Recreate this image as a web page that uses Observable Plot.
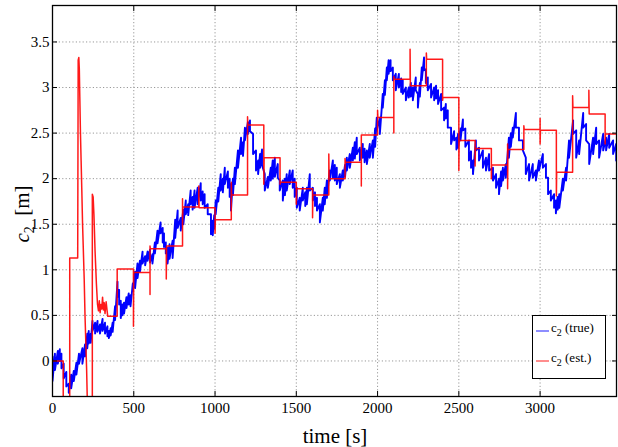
<!DOCTYPE html>
<html>
<head>
<meta charset="utf-8">
<script src="https://cdn.jsdelivr.net/npm/d3@7"></script>
<script src="https://cdn.jsdelivr.net/npm/@observablehq/plot@0.6"></script>
<style>
  html, body { margin: 0; padding: 0; background: #fff; }
  #chart { width: 618px; height: 447px; }
  #chart svg text { font-family: 'Liberation Serif', 'Times New Roman', serif; fill: #000; }
</style>
</head>
<body>
<div id="chart"></div>
<script>
// ---- tick labels ----
const xTicks = [0, 500, 1000, 1500, 2000, 2500, 3000];
const yTicks = [0, 0.5, 1, 1.5, 2, 2.5, 3, 3.5];

// ---- c2 (true): sampled time, upper and lower edge of the noisy trace ----
const blueT = [0,15,33,45,55,69,85,100,115,131,147,163,184,200,214,223,235,246,262,277,292,308,323,338,347,358,370,385,400,410,420,430,440,455,469,480,494,508,523,538,554,570,585,600,615,630,646,665,678,686,697,708,720,739,755,770,789,805,820,835,850,862,874,893,912,924,936,955,975,986,995,1004,1020,1035,1048,1060,1079,1090,1098,1110,1122,1141,1160,1172,1184,1202,1215,1234,1252,1265,1277,1289,1306,1325,1343,1355,1368,1386,1398,1417,1430,1441,1460,1478,1490,1503,1521,1540,1555,1565,1583,1602,1615,1627,1645,1663,1675,1688,1706,1725,1737,1749,1768,1786,1800,1811,1829,1848,1860,1872,1891,1909,1920,1934,1952,1971,1985,1995,2014,2032,2045,2057,2068,2080,2094,2112,2131,2145,2155,2174,2192,2205,2217,2235,2248,2260,2272,2286,2297,2309,2329,2348,2360,2372,2391,2409,2420,2432,2452,2471,2485,2495,2510,2525,2540,2562,2575,2587,2605,2624,2648,2667,2686,2710,2729,2747,2760,2771,2789,2808,2820,2832,2851,2870,2894,2912,2932,2955,2974,2993,3017,3036,3049,3066,3086,3097,3108,3118,3140,3160,3178,3203,3222,3240,3265,3283,3302,3326,3345,3363,3388,3406,3425,3449,3468];
const blueHi = [0.05,0.08,0.11,0.13,0.08,-0.03,-0.12,-0.25,-0.15,-0.11,-0.02,0.08,0.14,0.18,0.3,0.33,0.3,0.44,0.42,0.44,0.4,0.46,0.42,0.38,0.33,0.36,0.42,0.6,0.87,0.78,0.66,0.62,0.64,0.7,0.74,0.72,0.85,0.98,1.07,1.1,1.2,1.15,1.2,1.22,1.17,1.3,1.43,1.52,1.46,1.4,1.3,1.24,1.28,1.32,1.55,1.65,1.57,1.66,1.76,1.72,1.87,1.8,1.87,1.9,1.95,1.86,1.83,1.72,1.61,1.54,1.6,1.76,1.9,2.05,2.0,2.12,2.08,2.0,1.94,2.0,2.12,2.31,2.45,2.4,2.56,2.62,2.64,2.49,2.31,2.2,2.27,2.32,2.05,2.02,2.12,2.2,2.23,2.16,1.98,1.98,2.0,2.05,2.09,2.09,2.0,1.9,1.79,1.9,1.85,1.9,2.05,1.9,1.85,1.79,1.72,1.79,1.9,1.98,2.09,2.2,2.15,2.12,2.05,2.09,2.15,2.23,2.27,2.34,2.4,2.45,2.34,2.38,2.33,2.31,2.38,2.42,2.55,2.67,2.67,2.93,3.08,3.22,3.3,3.3,3.22,3.15,3.15,3.1,3.08,3.0,3.0,3.05,3.0,3.11,2.93,3.05,3.22,3.33,3.2,3.11,3.04,3.0,3.02,2.97,2.93,2.78,2.82,2.75,2.56,2.52,2.45,2.49,2.55,2.65,2.55,2.42,2.3,2.2,2.42,2.34,2.31,2.23,2.27,2.12,2.05,2.0,2.08,2.12,2.16,2.45,2.5,2.56,2.72,2.56,2.42,2.23,2.16,2.16,2.09,2.2,2.27,2.16,2.01,1.87,1.83,1.76,1.8,1.83,2.0,2.12,2.42,2.64,2.53,2.42,2.72,2.6,2.38,2.45,2.56,2.42,2.49,2.45,2.49,2.42,2.38];
const blueLo = [-0.22,-0.1,-0.03,0.0,-0.08,-0.19,-0.28,-0.35,-0.3,-0.22,-0.15,-0.03,-0.03,0.05,0.14,0.19,0.2,0.33,0.3,0.32,0.3,0.33,0.3,0.27,0.25,0.28,0.32,0.45,0.7,0.62,0.47,0.5,0.52,0.58,0.62,0.6,0.77,0.8,0.91,0.98,1.07,1.05,1.1,1.08,1.07,1.18,1.29,1.4,1.3,1.25,1.18,1.07,1.12,1.13,1.35,1.46,1.43,1.5,1.61,1.6,1.72,1.66,1.68,1.72,1.76,1.72,1.68,1.61,1.39,1.38,1.45,1.61,1.75,1.87,1.85,1.94,1.9,1.8,1.65,1.82,1.94,2.12,2.27,2.25,2.42,2.49,2.52,2.27,2.09,2.05,2.12,2.15,1.87,1.9,1.98,2.0,2.02,2.01,1.87,1.76,1.82,1.87,1.94,1.9,1.8,1.68,1.65,1.76,1.7,1.72,1.87,1.76,1.7,1.65,1.52,1.65,1.72,1.79,1.98,2.01,1.98,1.94,1.9,1.98,2.02,2.09,2.12,2.2,2.22,2.27,2.2,2.23,2.18,2.16,2.23,2.23,2.35,2.53,2.49,2.78,2.92,3.08,3.15,3.18,3.08,2.97,3.0,2.95,2.93,2.86,2.89,2.9,2.86,2.97,2.78,2.9,3.08,3.19,3.05,2.97,2.89,2.86,2.88,2.82,2.75,2.64,2.66,2.56,2.38,2.42,2.32,2.34,2.42,2.53,2.35,2.2,2.12,2.05,2.31,2.2,2.12,2.09,2.09,1.98,1.9,1.83,1.92,1.98,2.01,2.23,2.35,2.45,2.56,2.42,2.31,2.05,1.98,2.01,1.98,2.09,2.12,2.01,1.83,1.76,1.68,1.62,1.66,1.68,1.87,1.98,2.23,2.49,2.23,2.27,2.56,2.42,2.16,2.27,2.38,2.23,2.31,2.31,2.34,2.27,2.2];

// ---- c2 (est.): step estimate with its update spikes (time, value) ----
const redT = [0,66,66,106,106,155,158,162,165,168,172,176,180,185,190,195,200,205,210,215,245,245,250,255,262,270,277,283,288,293,298,303,308,313,318,323,330,336,340,398,398,498,498,500,600,600,600,602,700,700,702,800,800,800,802,900,900,902,1000,1000,1002,1100,1100,1102,1200,1200,1202,1300,1300,1302,1400,1400,1402,1500,1500,1502,1600,1600,1602,1700,1700,1702,1800,1800,1802,1900,1900,1900,2000,2000,2002,2100,2100,2100,2102,2200,2200,2202,2300,2300,2302,2400,2400,2402,2500,2500,2502,2600,2600,2602,2700,2700,2702,2800,2800,2800,2802,2900,2900,2902,3000,3000,3000,3002,3100,3100,3102,3200,3200,3202,3300,3300,3302,3400,3400,3402,3470];
const redV = [0,0,-0.6,-0.6,1.13,1.13,3.3,3.33,3.2,2.9,2.5,2.2,1.9,1.5,1.2,0.9,0.5,0.2,-0.1,-0.5,-0.5,1.83,1.8,1.6,1.2,0.85,0.62,0.55,0.66,0.53,0.62,0.57,0.7,0.56,0.64,0.52,0.65,0.55,0.49,0.49,1.01,1.01,0.38,0.97,0.97,0.73,1.26,1.23,1.23,0.9,1.26,1.26,1.78,1.45,1.69,1.69,1.92,1.68,1.68,1.4,1.55,1.55,1.96,1.82,1.82,2.68,2.59,2.59,1.94,2.23,2.23,1.94,1.96,1.96,1.72,1.89,1.89,1.57,1.82,1.82,2.27,2.0,2.0,2.22,2.18,2.18,1.92,2.48,2.48,2.75,2.67,2.67,2.5,3.12,3.09,3.09,3.42,3.02,3.02,3.38,3.31,3.31,2.86,2.89,2.89,2.09,2.42,2.42,2.14,2.33,2.33,2.0,2.15,2.15,2.38,1.89,2.32,2.32,2.58,2.54,2.54,2.66,2.38,2.53,2.53,1.81,2.07,2.07,2.91,2.78,2.78,2.97,2.71,2.71,2.38,2.49,2.49];

const legendLabels = ["(true)", "(est.)"];
const seriesColors = ["#0000ff", "#ff0000"];

// tables built from the arrays
const blueRows = [];
blueT.forEach((t, i) => { blueRows.push({t, v: blueHi[i]}); blueRows.push({t, v: blueLo[i]}); });
const redRows = redT.map((t, i) => ({t, v: redV[i]}));

const W = 618, H = 447;
const fmt = d => String(d);

const plot = Plot.plot({
  width: W, height: H,
  marginLeft: 52, marginRight: 2, marginTop: 5, marginBottom: 51,
  style: "font-family: 'Liberation Serif', serif; font-size: 15px; color: #000; background: #fff;",
  x: {domain: [0, 3470]},
  y: {domain: [-0.39, 3.9]},
  marks: [
    Plot.gridX(xTicks, {stroke: "#999", strokeOpacity: 1, strokeDasharray: "1.2,2.2"}),
    Plot.gridY(yTicks, {stroke: "#999", strokeOpacity: 1, strokeDasharray: "1.2,2.2"}),
    Plot.line(blueRows, {x: "t", y: "v", stroke: seriesColors[0], strokeWidth: 1.9, clip: true}),
    Plot.line(redRows, {x: "t", y: "v", stroke: seriesColors[1], strokeWidth: 1.5, strokeOpacity: 0.9, clip: true}),
    Plot.axisX(xTicks, {anchor: "bottom", tickSize: -5, tickPadding: 11, label: null, tickFormat: fmt, fontSize: 15}),
    Plot.axisX(xTicks, {anchor: "top", tickSize: -5, tickFormat: () => "", label: null}),
    Plot.axisY(yTicks, {anchor: "left", tickSize: -5, tickPadding: 8, label: null, tickFormat: fmt, fontSize: 15}),
    Plot.axisY(yTicks, {anchor: "right", tickSize: -5, tickFormat: () => "", label: null}),
    Plot.frame({stroke: "#000", strokeWidth: 1.3})
  ]
});
document.getElementById("chart").appendChild(plot);

// axis titles and legend drawn as real SVG text
const svg = d3.select(plot);
svg.append("text")
  .attr("x", 335).attr("y", 443)
  .attr("text-anchor", "middle")
  .style("font-size", "21px")
  .text("time [s]");

const yl = svg.append("text")
  .attr("transform", "translate(29,214) rotate(-90)")
  .attr("text-anchor", "middle")
  .style("font-size", "21px");
yl.append("tspan").style("font-style", "italic").text("c");
yl.append("tspan").attr("dy", 5).style("font-size", "14px").text("2");
yl.append("tspan").attr("dy", -5).text("\u2002[m]");

const lg = svg.append("g");
lg.append("rect").attr("x", 532.5).attr("y", 315.5).attr("width", 73).attr("height", 63)
  .attr("fill", "#fff").attr("stroke", "#000").attr("stroke-width", 1);
legendLabels.forEach((lab, i) => {
  const yy = 331 + i * 30;
  lg.append("line").attr("x1", 536).attr("x2", 549).attr("y1", yy).attr("y2", yy)
    .attr("stroke", seriesColors[i]).attr("stroke-width", 1.2).attr("stroke-opacity", 0.75);
  const t = lg.append("text").attr("x", 551).attr("y", yy + 1)
    .attr("text-anchor", "start")
    .style("font-size", "13px");
  t.append("tspan").text("c");
  t.append("tspan").attr("dy", 4).style("font-size", "10px").text("2");
  t.append("tspan").attr("dy", -4).text(" " + lab);
});
</script>
</body>
</html>
